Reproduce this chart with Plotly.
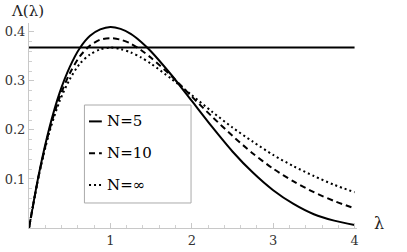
import plotly.graph_objects as go

lam = [0, 0.125, 0.25, 0.375, 0.5, 0.625, 0.75, 0.875, 1.0, 1.125, 1.25, 1.375, 1.5, 1.75, 2.0, 2.25, 2.5, 2.75, 3.0, 3.25, 3.5, 3.75, 4.0]
n5 = [0, 0.113, 0.204, 0.275, 0.328, 0.367, 0.392, 0.405, 0.410, 0.406, 0.396, 0.380, 0.360, 0.312, 0.259, 0.206, 0.156, 0.113, 0.077, 0.049, 0.028, 0.015, 0.006]
n10 = [0, 0.111, 0.199, 0.266, 0.315, 0.350, 0.372, 0.384, 0.387, 0.384, 0.376, 0.363, 0.347, 0.310, 0.268, 0.227, 0.188, 0.152, 0.121, 0.095, 0.073, 0.055, 0.040]
ninf = [0, 0.110, 0.195, 0.258, 0.303, 0.335, 0.354, 0.364, 0.368, 0.365, 0.358, 0.348, 0.335, 0.304, 0.271, 0.237, 0.205, 0.176, 0.149, 0.126, 0.106, 0.088, 0.073]
hline_x = [0, 4]
hline_y = [0.368, 0.368]
legend_labels = ["N=5", "N=10", "N=∞"]
x_ticks = [1, 2, 3, 4]
y_ticks = [0.1, 0.2, 0.3, 0.4]

SERIF = "DejaVu Serif"
fig = go.Figure()
fig.add_trace(go.Scatter(x=hline_x, y=hline_y, mode="lines", line=dict(color="black", width=2), showlegend=False))
styles = [("solid", n5), ("6px,4px", n10), ("2px,3px", ninf)]
for (dash, ys), name in zip(styles, legend_labels):
    fig.add_trace(go.Scatter(x=lam, y=ys, mode="lines", name=name,
                             line=dict(color="black", width=2, dash=dash, shape="spline", smoothing=0.8),
                             showlegend=False))

axis_common = dict(showgrid=False, zeroline=False, showline=True, linecolor="#c8c8c8", linewidth=1,
                   ticks="inside", ticklen=5, tickcolor="#c8c8c8", tickwidth=1, automargin=False,
                   tickfont=dict(family=SERIF, size=13, color="#333"))
fig.update_xaxes(range=[0, 4.03], tickvals=x_ticks, ticktext=[str(v) for v in x_ticks],
                 minor=dict(ticks="inside", ticklen=3, tickcolor="#d0d0d0", dtick=0.2, tick0=0), **axis_common)
fig.update_yaxes(range=[0, 0.418], tickvals=y_ticks, ticktext=[f"{v:.1f}" for v in y_ticks],
                 minor=dict(ticks="inside", ticklen=3, tickcolor="#d0d0d0", dtick=0.02, tick0=0), **axis_common)

# manual legend (paper coordinates)
shapes = [dict(type="rect", xref="paper", yref="paper", x0=0.169, x1=0.494, y0=0.122, y1=0.600,
               line=dict(color="#aaaaaa", width=1), fillcolor="white", layer="above")]
annotations = []
rows = [0.520, 0.365, 0.210]
for (dash, _), name, yy in zip(styles, legend_labels, rows):
    shapes.append(dict(type="line", xref="paper", yref="paper", x0=0.183, x1=0.222, y0=yy, y1=yy,
                       line=dict(color="black", width=2, dash=dash), layer="above"))
    annotations.append(dict(xref="paper", yref="paper", x=0.232, y=yy, xanchor="left", yanchor="middle",
                            text=name, showarrow=False, font=dict(family=SERIF, size=15, color="black")))
annotations.append(dict(xref="paper", yref="paper", x=-0.06, y=1.06, xanchor="left", yanchor="middle",
                        text="Λ(λ)", showarrow=False, font=dict(family=SERIF, size=15, color="#222")))
annotations.append(dict(xref="paper", yref="paper", x=1.045, y=0.02, xanchor="left", yanchor="middle",
                        text="λ", showarrow=False, font=dict(family=SERIF, size=16, color="#222")))

fig.update_layout(width=407, height=252, margin=dict(l=29, r=50, t=23, b=24),
                  plot_bgcolor="white", paper_bgcolor="white", shapes=shapes, annotations=annotations,
                  font=dict(family=SERIF))
fig.write_html("out.html", config={"displayModeBar": False},
               post_script="document.body.style.margin='0';")
